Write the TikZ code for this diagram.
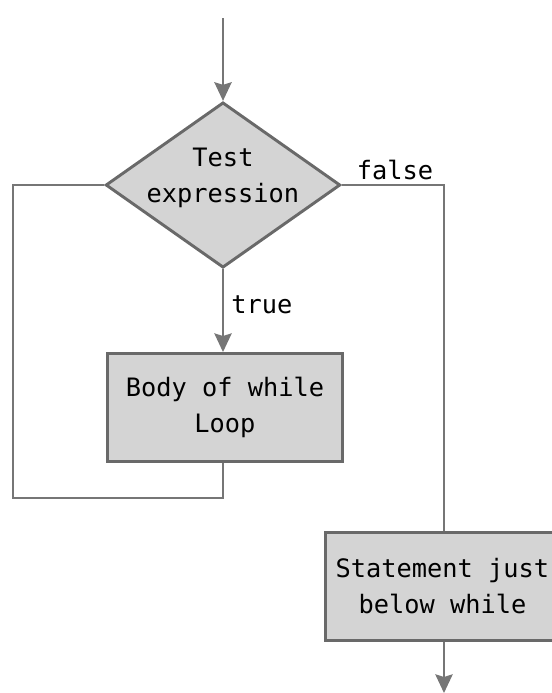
\documentclass[tikz,border=0pt]{standalone}
\usepackage{fontspec}
\setmonofont{DejaVu Sans Mono}
\usepackage{tikz}
\usetikzlibrary{arrows.meta,shapes.geometric}

\definecolor{boxfill}{RGB}{212,212,212}
\definecolor{boxline}{RGB}{105,105,105}
\definecolor{wire}{RGB}{118,118,118}

\tikzset{
  flow/.style={draw=wire, line width=1.6pt},
  flowarrow/.style={flow, -{Stealth[length=14pt, width=13pt, inset=2pt]}},
  stepbox/.style={rectangle, draw=boxline, fill=boxfill, line width=2.2pt,
    minimum width=176pt, minimum height=81pt, align=center,
    font=\ttfamily\fontsize{19}{27}\selectfont},
  decision/.style={diamond, draw=boxline, fill=boxfill, line width=2.2pt,
    minimum width=176pt, minimum height=124pt, inner sep=0pt,
    font=\ttfamily\fontsize{19}{27}\selectfont},
  flowlabel/.style={font=\ttfamily\fontsize{19}{27}\selectfont, inner sep=0pt}
}

\begin{document}
\begin{tikzpicture}[x=0.75pt, y=-0.75pt]
    \clip (0,0) rectangle (552,693);
    \useasboundingbox (0,0) rectangle (552,693);
    \coordinate (start) at (223,18);
    \coordinate (stop) at (444,693);
    \node[decision] (test) at (223,185)
      {\smash{\makebox[0pt]{\raisebox{-13pt}{\begin{tabular}[b]{@{}c@{}}Test\\expression\end{tabular}}}}};
    \node[stepbox] (body) at (225,407.5) {Body of while\\Loop};
    \node[stepbox] (after) at (442.5,586.5) {Statement just\\below while};
    \draw[flowarrow] (start) -- (test.north);
    \draw[flowarrow] (test.south) -- (test.south |- body.north);
    \node[flowlabel, anchor=west] (truelbl) at (231,305) {true};
    \draw[flow] (test.south |- body.south) -- ++(0,35) -| (13,185) -- (test.west);
    \draw[flow] (test.east) -| (after.north -| stop);
    \node[flowlabel] (falselbl) at (395,170) {false};
    \draw[flowarrow] (after.south -| stop) -- (stop);
\end{tikzpicture}
\end{document}
